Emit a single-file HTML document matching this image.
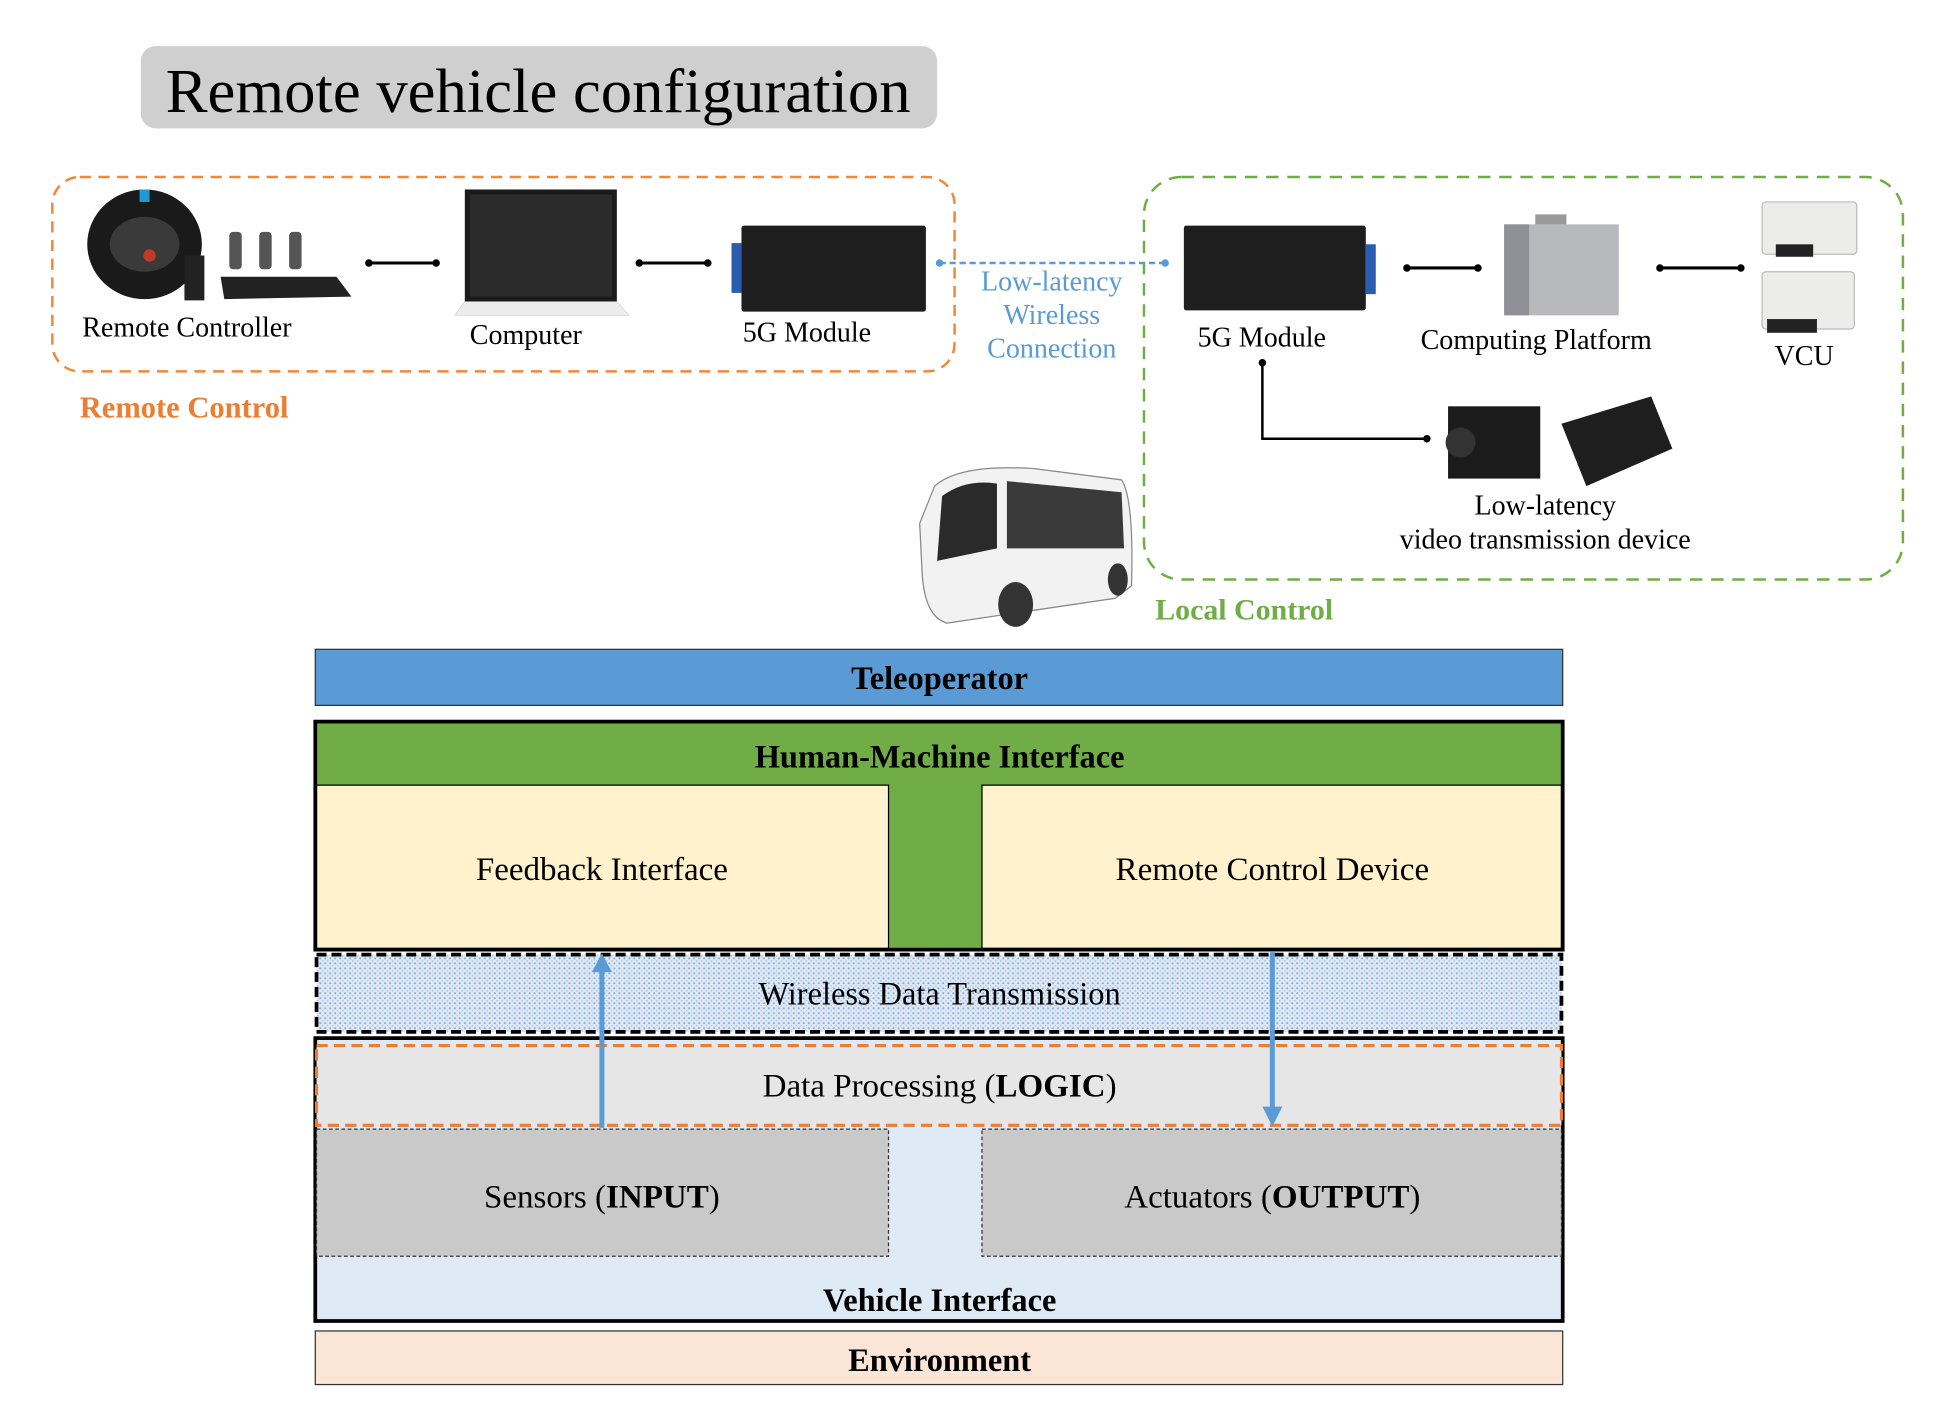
<!DOCTYPE html>
<html><head><meta charset="utf-8"><style>html,body{margin:0;padding:0;background:#fff}svg{display:block}text{font-family:"Liberation Serif",serif}</style></head>
<body>
<svg width="1954" height="1422" viewBox="0 0 1568 1141" xmlns="http://www.w3.org/2000/svg">
<defs>
<pattern id="dots" width="4" height="4" patternUnits="userSpaceOnUse">
<rect width="4" height="4" fill="#dfe9f5"/>
<circle cx="1" cy="1" r="0.8" fill="#7fa7d6"/>
<circle cx="3" cy="3" r="0.6" fill="#9dbbe0"/>
</pattern>
</defs>
<rect width="1568" height="1141" fill="#fff"/>
<!-- title -->
<rect x="113" y="37" width="639" height="66" rx="12" fill="#d0cfcf"/>
<text x="133" y="90" font-size="50.3">Remote vehicle configuration</text>
<!-- remote control box -->
<rect x="42" y="142" width="724" height="156" rx="22" fill="none" stroke="#f0883a" stroke-width="2" stroke-dasharray="9,6"/>
<text x="64" y="335" font-size="24.5" font-weight="bold" fill="#ed7d31">Remote Control</text>
<!-- local control box -->
<rect x="918" y="142" width="609" height="323" rx="30" fill="none" stroke="#70ad47" stroke-width="2" stroke-dasharray="10,7"/>
<text x="927" y="497" font-size="24" font-weight="bold" fill="#70ad47">Local Control</text>
<!-- steering wheel -->
<ellipse cx="116" cy="196" rx="46" ry="44" fill="#1a1a1a"/>
<ellipse cx="116" cy="196" rx="28" ry="22" fill="#3a3a3a"/>
<rect x="112" y="152" width="8" height="10" fill="#1e9ad6"/>
<circle cx="120" cy="205" r="5" fill="#c0392b"/>
<rect x="148" y="205" width="16" height="36" fill="#222"/>
<!-- pedals -->
<path d="M177 222 L270 222 L282 238 L180 240 z" fill="#222"/>
<rect x="184" y="186" width="10" height="30" rx="3" fill="#555"/>
<rect x="208" y="186" width="10" height="30" rx="3" fill="#555"/>
<rect x="232" y="186" width="10" height="30" rx="3" fill="#555"/>
<!-- laptop -->
<rect x="373" y="152" width="122" height="90" fill="#1a1a1a"/>
<rect x="377" y="156" width="114" height="82" fill="#2b2b2b"/>
<path d="M373 242 L495 242 L505 253 L365 253 z" fill="#ececec" stroke="#ccc" stroke-width="0.5"/>
<!-- 5G left -->
<rect x="595" y="181" width="148" height="69" rx="2" fill="#1e1e1e"/>
<rect x="587" y="195" width="8" height="40" fill="#2a5db0"/>
<!-- 5G right -->
<rect x="950" y="181" width="146" height="68" rx="2" fill="#1e1e1e"/>
<rect x="1096" y="196" width="8" height="40" fill="#2a5db0"/>
<!-- computing platform -->
<rect x="1207" y="180" width="92" height="73" fill="#b8b9bd"/>
<rect x="1207" y="180" width="20" height="73" fill="#8f9196"/>
<rect x="1232" y="172" width="25" height="8" fill="#999"/>
<!-- VCU -->
<rect x="1414" y="162" width="76" height="42" rx="3" fill="#ececea" stroke="#bbb"/>
<rect x="1425" y="196" width="30" height="10" fill="#222"/>
<rect x="1414" y="218" width="74" height="46" rx="3" fill="#ececea" stroke="#bbb"/>
<rect x="1418" y="256" width="40" height="11" fill="#222"/>
<!-- camera + device -->
<rect x="1162" y="326" width="74" height="58" fill="#1b1b1b"/>
<circle cx="1172" cy="355" r="12" fill="#333"/>
<path d="M1253 340 L1325 318 L1342 360 L1273 390 z" fill="#1e1e1e"/>
<!-- bus -->
<path d="M750 390 Q770 372 830 376 L900 385 Q910 400 908 470 L895 480 L760 500 Q742 495 740 460 L738 420 z" fill="#f2f2f2" stroke="#888" stroke-width="1"/>
<path d="M756 398 Q775 384 800 388 L800 440 L752 450 z" fill="#2a2a2a"/>
<path d="M808 386 L900 395 L902 440 L808 440 z" fill="#3a3a3a"/>
<ellipse cx="815" cy="485" rx="14" ry="18" fill="#333"/>
<ellipse cx="897" cy="465" rx="8" ry="13" fill="#333"/>
<!-- connectors -->
<g stroke="#000" stroke-width="2.5">
<line x1="296" y1="211" x2="350" y2="211"/><line x1="513" y1="211" x2="568" y2="211"/>
<line x1="1129" y1="215" x2="1186" y2="215"/><line x1="1332" y1="215" x2="1397" y2="215"/>
<polyline points="1013,291 1013,352 1145,352" fill="none" stroke-width="2"/>
</g>
<g fill="#000"><circle cx="296" cy="211" r="3"/><circle cx="350" cy="211" r="3"/><circle cx="513" cy="211" r="3"/><circle cx="568" cy="211" r="3"/><circle cx="1129" cy="215" r="3"/><circle cx="1186" cy="215" r="3"/><circle cx="1332" cy="215" r="3"/><circle cx="1397" cy="215" r="3"/><circle cx="1013" cy="291" r="3"/><circle cx="1145" cy="352" r="3"/></g>
<line x1="754" y1="211" x2="935" y2="211" stroke="#5b9bd5" stroke-width="2" stroke-dasharray="5,3"/>
<circle cx="754" cy="211" r="3" fill="#5b9bd5"/><circle cx="935" cy="211" r="3" fill="#5b9bd5"/>
<!-- labels -->
<g font-size="22.5">
<text x="66" y="270">Remote Controller</text>
<text x="377" y="276">Computer</text>
<text x="596" y="274">5G Module</text>
<text x="961" y="278">5G Module</text>
<text x="1140" y="280">Computing Platform</text>
<text x="1424" y="293">VCU</text>
<text x="1240" y="413" text-anchor="middle">Low-latency</text>
<text x="1240" y="440" text-anchor="middle">video transmission device</text>
<g fill="#5b9bd5" text-anchor="middle"><text x="844" y="233">Low-latency</text><text x="844" y="260">Wireless</text><text x="844" y="287">Connection</text></g>
</g>
<!-- bottom diagram -->
<rect x="253" y="521" width="1001" height="45" fill="#5b9bd5" stroke="#333" stroke-width="1"/>
<text x="754" y="553" font-size="26" font-weight="bold" text-anchor="middle">Teleoperator</text>
<rect x="254" y="580" width="999" height="181" fill="#70ad47"/>
<rect x="254" y="630" width="459" height="131" fill="#fff2cc" stroke="#000" stroke-width="1"/>
<rect x="788" y="630" width="465" height="131" fill="#fff2cc" stroke="#000" stroke-width="1"/>
<rect x="253" y="579" width="1001" height="183" fill="none" stroke="#000" stroke-width="3"/>
<text x="754" y="616" font-size="26" font-weight="bold" text-anchor="middle">Human-Machine Interface</text>
<text x="483" y="706" font-size="26.5" text-anchor="middle">Feedback Interface</text>
<text x="1021" y="706" font-size="26.5" text-anchor="middle">Remote Control Device</text>
<rect x="254" y="766" width="999" height="62" fill="url(#dots)" stroke="#000" stroke-width="3" stroke-dasharray="8,4"/>
<text x="754" y="806" font-size="26" text-anchor="middle">Wireless Data Transmission</text>
<rect x="253" y="833" width="1001" height="227" fill="#deebf7" stroke="#000" stroke-width="3"/>
<rect x="254" y="839" width="999" height="64" fill="#e7e6e6" stroke="#ed7d31" stroke-width="2.5" stroke-dasharray="9,5"/>
<text x="754" y="880" font-size="26.5" text-anchor="middle">Data Processing (<tspan font-weight="bold">LOGIC</tspan>)</text>
<rect x="254" y="906" width="459" height="102" fill="#c9c9c9" stroke="#333" stroke-width="1" stroke-dasharray="3,2"/>
<rect x="788" y="906" width="465" height="102" fill="#c9c9c9" stroke="#333" stroke-width="1" stroke-dasharray="3,2"/>
<text x="483" y="969" font-size="26.5" text-anchor="middle">Sensors (<tspan font-weight="bold">INPUT</tspan>)</text>
<text x="1021" y="969" font-size="26.5" text-anchor="middle">Actuators (<tspan font-weight="bold">OUTPUT</tspan>)</text>
<text x="754" y="1052" font-size="26" font-weight="bold" text-anchor="middle">Vehicle Interface</text>
<rect x="253" y="1068" width="1001" height="43" fill="#fbe5d6" stroke="#333" stroke-width="1"/>
<text x="754" y="1100" font-size="26" font-weight="bold" text-anchor="middle">Environment</text>
<!-- arrows -->
<line x1="483" y1="905" x2="483" y2="778" stroke="#5b9bd5" stroke-width="4"/>
<path d="M475 780 L483 765 L491 780 z" fill="#5b9bd5"/>
<line x1="1021" y1="764" x2="1021" y2="890" stroke="#5b9bd5" stroke-width="4"/>
<path d="M1013 888 L1021 904 L1029 888 z" fill="#5b9bd5"/>
</svg>
</body></html>
